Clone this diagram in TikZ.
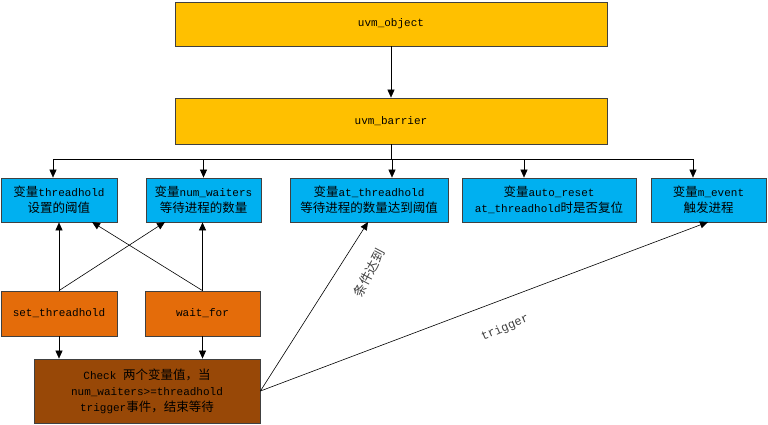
\documentclass[tikz,border=0pt]{standalone}
\usepackage{fontspec}
\setmainfont{Liberation Mono}
\newfontfamily\cjkf{Noto Sans CJK SC}
\newcommand{\cjk}{\cjkf\fontsize{12.5}{16}\selectfont}
\usetikzlibrary{arrows.meta}
\definecolor{cyel}{HTML}{FFC000}
\definecolor{cblue}{HTML}{00B0F0}
\definecolor{corg}{HTML}{E46C0A}
\definecolor{cbrn}{HTML}{984807}
\begin{document}
\begin{tikzpicture}[x=1pt,y=-1pt,
  box/.style={draw=black!75,line width=0.8pt,font=\fontsize{11}{16}\selectfont,align=center,inner sep=0pt},
  arr/.style={-{Triangle[length=8pt,width=7pt]},line width=0.6pt}]
\useasboundingbox (0,0) rectangle (768,424);
\node[box,fill=cyel,minimum width=432,minimum height=44] (obj) at (391,24) {uvm\_object};
\node[box,fill=cyel,minimum width=432,minimum height=46] (bar) at (391,121) {uvm\_barrier};
\node[box,fill=cblue,minimum width=116,minimum height=44] (A) at (59,200) {{\cjk 变量}threadhold\\{\cjk 设置的阈值}};
\node[box,fill=cblue,minimum width=115,minimum height=44] (B) at (203.5,200) {{\cjk 变量}num\_waiters\\{\cjk 等待进程的数量}};
\node[box,fill=cblue,minimum width=158,minimum height=44] (C) at (369,200) {{\cjk 变量}at\_threadhold\\{\cjk 等待进程的数量达到阈值}};
\node[box,fill=cblue,minimum width=174,minimum height=44] (D) at (549,200) {{\cjk 变量}auto\_reset\\at\_threadhold{\cjk 时是否复位}};
\node[box,fill=cblue,minimum width=115,minimum height=44] (E) at (708.5,200) {{\cjk 变量}m\_event\\{\cjk 触发进程}};
\node[box,fill=corg,minimum width=116,minimum height=45] (S) at (59,313.5) {set\_threadhold};
\node[box,fill=corg,minimum width=115,minimum height=45] (W) at (202.5,313.5) {wait\_for};
\node[box,fill=cbrn,minimum width=226,minimum height=64] (K) at (147,391) {Check {\cjk 两个变量值，当}\\num\_waiters>=threadhold\\trigger{\cjk 事件，结束等待}};
\draw[arr] (obj.south) -- (bar.north);
\coordinate (j) at (391,159);
\draw[line width=0.6pt] (bar.south) -- (j);
\draw[line width=0.6pt] (53,159) -- (693,159);
\draw[arr] (53,159) -- (A.north -| 53,0);
\draw[arr] (B.north |- j) -- (B.north);
\draw[arr] (392,159) -- (C.north -| 392,0);
\draw[arr] (524,159) -- (D.north -| 524,0);
\draw[arr] (693,159) -- (E.north -| 693,0);
\draw[arr] (S.north) -- (A.south);
\draw[arr] (S.north) -- (165,222);
\draw[arr] (W.north) -- (92,222);
\draw[arr] (W.north) -- (W.north |- B.south);
\draw[arr] (S.south) -- (S.south |- K.north);
\draw[arr] (W.south) -- (W.south |- K.north);
\draw[arr] (K.east) -- (368,222);
\draw[arr] (K.east) -- (708,222);
\node[rotate=62,font=\cjkf\fontsize{13}{13}\selectfont,text=black!75] (l1) at (369,273) {条件达到};
\node[rotate=23,font=\fontsize{12}{12}\selectfont,text=black!75] (l2) at (505,328) {trigger};
\end{tikzpicture}
\end{document}
